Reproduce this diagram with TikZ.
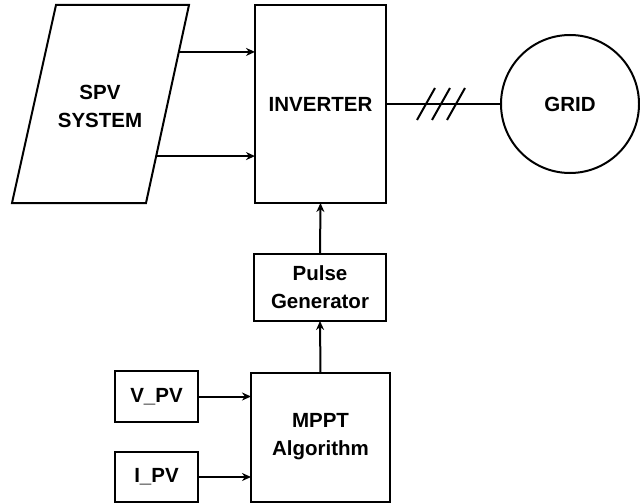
\documentclass[tikz,border=0pt]{standalone}
\usepackage{fontspec}
\setmainfont{Liberation Sans}
\usetikzlibrary{arrows.meta,calc}
\begin{document}
\begin{tikzpicture}[x=1pt,y=-1pt,
  every node/.style={font=\fontsize{20.5}{28}\selectfont\bfseries, align=center},
  blk/.style={draw, line width=2pt, inner sep=0pt, outer sep=0pt, minimum width=#1},
  conn/.style={line width=2pt},
  arr/.style={line width=2pt, -{Stealth[length=9pt,width=8pt]}}]
\useasboundingbox (0,0) rectangle (640,503);
% SPV parallelogram
\coordinate (stl) at (56,5);
\coordinate (str) at (189,5);
\coordinate (sbr) at (146,203);
\coordinate (sbl) at (12,203);
\draw[conn, line join=miter] (stl) -- (str) -- (sbr) -- (sbl) -- cycle;
\node (spv) at (100,106) {SPV\\SYSTEM};
% inverter
\node[blk=131pt, minimum height=198pt] (inv) at (320.5,104) {INVERTER};
% grid
\node[draw, circle, line width=2pt, minimum size=138pt, inner sep=0pt, outer sep=0pt] (grid) at (570,104) {GRID};
% pulse generator
\node[blk=132pt, minimum height=67pt] (pg) at (320,287.5) {Pulse\\Generator};
% MPPT
\node[blk=139pt, minimum height=129pt] (mppt) at (320.5,437) {MPPT\\Algorithm};
% V_PV, I_PV
\node[blk=83pt, minimum height=51pt] (vpv) at (156.5,396.5) {V\_PV};
\node[blk=83pt, minimum height=50pt] (ipv) at (156.5,477) {I\_PV};
% connectors
\coordinate (s1) at ($(str)!0.237!(sbr)$);
\coordinate (s2) at ($(str)!0.763!(sbr)$);
\draw[arr] (s1) -- (s1 -| inv.west);
\draw[arr] (s2) -- (s2 -| inv.west);
\draw[conn] (inv.east) -- (grid.west);
\foreach \xx [count=\i] in {426,441,456} {
  \coordinate (sl\i) at (\xx,104);
  \draw[conn] ($(sl\i)+(-9,16)$) -- ($(sl\i)+(9,-16)$);
}
\draw[arr] (pg.north) -- (inv.south);
\draw[arr] (mppt.north) -- (pg.south);
\draw[arr] (vpv.east) -- (vpv.east -| mppt.west);
\draw[arr] (ipv.east) -- (ipv.east -| mppt.west);
\end{tikzpicture}
\end{document}
